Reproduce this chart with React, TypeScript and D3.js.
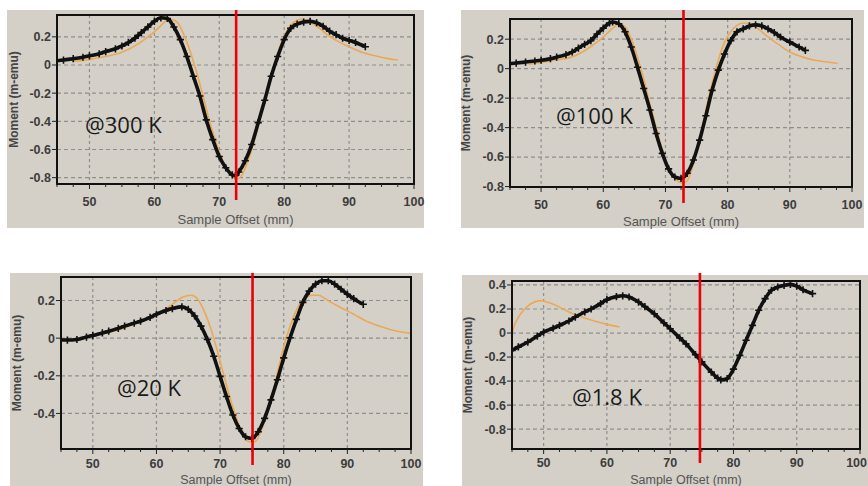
import React from 'react';
import * as d3 from 'd3';

type Pt = [number, number];

// ---------- data ----------
const panelTitles = ['@300 K', '@100 K', '@20 K', '@1.8 K'];
const xTickValues = [50, 60, 70, 80, 90, 100];
const redLineX = [72.6, 72.9, 75.1, 74.7];
const yTicks300 = [0.2, 0, -0.2, -0.4, -0.6, -0.8];
const yTicks100 = [0.2, 0, -0.2, -0.4, -0.6, -0.8];
const yTicks20 = [0.2, 0, -0.2, -0.4];
const yTicks18 = [0.4, 0.2, 0, -0.2, -0.4, -0.6, -0.8];

const black300: Pt[] = [
  [45, 0.03], [46, 0.035], [47.5, 0.045], [49, 0.055], [50, 0.065], [51.5, 0.08], [52.5, 0.095], [54, 0.115], [55, 0.135],
  [56, 0.16], [57, 0.19], [57.5, 0.21], [58, 0.23], [59, 0.27], [60, 0.31], [61, 0.335], [62, 0.33], [63, 0.27],
  [64, 0.18], [65, 0.06], [66, -0.08], [67, -0.22], [68, -0.39], [69, -0.53], [70, -0.65], [71, -0.73],
  [72, -0.78], [72.5, -0.785], [73, -0.76], [74, -0.68], [75, -0.565], [76, -0.41], [77, -0.25], [78, -0.08],
  [79, 0.06], [80, 0.18], [81, 0.26], [82, 0.29], [83, 0.305], [84, 0.31], [85, 0.3], [86, 0.275], [87, 0.24],
  [88, 0.215], [89, 0.19], [90, 0.175], [91, 0.16], [92.5, 0.13],
];
const orange300: Pt[] = [
  [47.5, 0.025], [50, 0.04], [52.5, 0.06], [55, 0.09], [57.5, 0.15], [59, 0.2], [60, 0.235], [61, 0.28], [62, 0.32],
  [62.5, 0.325], [63.5, 0.305], [64.5, 0.22], [65.5, 0.1], [66.5, -0.05], [67.5, -0.22], [68.5, -0.4], [69.5, -0.55],
  [70.5, -0.68], [71.5, -0.76], [72.7, -0.81], [73.5, -0.78], [74.5, -0.67], [75.5, -0.52], [76.5, -0.34],
  [77.5, -0.15], [78.5, 0.01], [79.5, 0.15], [80.5, 0.25], [81.5, 0.305], [82.5, 0.325], [83.5, 0.32], [84.5, 0.29],
  [85.5, 0.26], [86.5, 0.22], [88, 0.175], [90, 0.13], [92, 0.09], [94, 0.065], [96, 0.045], [97.5, 0.035],
];

const black100: Pt[] = [
  [45, 0.034], [46, 0.038], [47.5, 0.045], [49, 0.052], [50, 0.057], [51.5, 0.068], [52.5, 0.078], [54, 0.095], [55, 0.113],
  [56, 0.14], [57, 0.165], [58, 0.19], [59, 0.235], [60, 0.275], [61, 0.31], [61.5, 0.317], [62.5, 0.305],
  [63.5, 0.25], [64.5, 0.147], [65.5, 0.01], [66.5, -0.135], [67.5, -0.28], [68.5, -0.44], [69.5, -0.575],
  [70.5, -0.68], [71.5, -0.735], [72.5, -0.745], [73.5, -0.71], [74.5, -0.62], [75.5, -0.485], [76.5, -0.32],
  [77.5, -0.147], [78.5, -0.01], [79.5, 0.1], [80.5, 0.19], [81.5, 0.25], [82.5, 0.27], [83.5, 0.29], [84.5, 0.297],
  [85.5, 0.29], [86.5, 0.27], [87.5, 0.245], [88.5, 0.215], [90, 0.18], [91.5, 0.147], [92.5, 0.124],
];
const orange100: Pt[] = [
  [48, 0.03], [50, 0.042], [52.5, 0.06], [55, 0.08], [57.5, 0.135], [59, 0.18], [60, 0.215], [61, 0.255], [62, 0.29],
  [62.5, 0.305], [63.5, 0.285], [64.5, 0.2], [65.5, 0.08], [66.5, -0.07], [67.5, -0.24], [68.5, -0.4], [69.5, -0.55],
  [70.5, -0.675], [71.5, -0.745], [72.8, -0.775], [73.5, -0.76], [74.5, -0.645], [75.5, -0.485], [76.5, -0.28],
  [77.5, -0.1], [78.5, 0.057], [79.5, 0.18], [80.5, 0.25], [81.5, 0.294], [82.5, 0.31], [83.5, 0.305], [84.5, 0.283],
  [85.5, 0.25], [86.5, 0.215], [88, 0.17], [90, 0.113], [92, 0.08], [94, 0.057], [96, 0.045], [97.7, 0.035],
];

const black20: Pt[] = [
  [45, -0.01], [46, -0.01], [47.5, -0.007], [49, 0.006], [50, 0.014], [51.5, 0.028], [52.5, 0.037], [54, 0.052],
  [55, 0.064], [56.5, 0.08], [57.5, 0.09], [59, 0.11], [60, 0.127], [61.5, 0.147], [62.5, 0.157], [64, 0.166],
  [65, 0.153], [66, 0.118], [67, 0.064], [68, -0.007], [69, -0.096], [70, -0.203], [71, -0.31], [72, -0.408],
  [73, -0.48], [74, -0.524], [75, -0.533], [76, -0.497], [77, -0.426], [78, -0.328], [79, -0.221], [80, -0.105],
  [81, 0.002], [82, 0.1], [83, 0.19], [84, 0.25], [85, 0.287], [86, 0.305], [87, 0.305], [88, 0.287], [89, 0.26],
  [90, 0.233], [91, 0.21], [92.5, 0.18],
];
const orange20: Pt[] = [
  [48, 0.005], [50, 0.014], [52.5, 0.03], [55, 0.055], [57.5, 0.088], [60, 0.127], [62.5, 0.18], [64, 0.216],
  [65.5, 0.228], [66.5, 0.207], [67.5, 0.144], [68.5, 0.055], [69.5, -0.06], [70.5, -0.185], [71.5, -0.31],
  [72.5, -0.417], [73.5, -0.506], [74.5, -0.55], [75.5, -0.55], [76.5, -0.488], [77.5, -0.381], [78.5, -0.257],
  [79.5, -0.114], [80.5, 0.011], [81.5, 0.109], [82.5, 0.18], [83.5, 0.216], [84.5, 0.228], [85.5, 0.228],
  [86.5, 0.21], [87.5, 0.189], [89, 0.162], [91, 0.127], [93, 0.09], [95, 0.064], [97, 0.043], [100, 0.025],
];

const black18: Pt[] = [
  [45, -0.144], [46, -0.115], [47.5, -0.075], [49, -0.025], [50, 0.008], [51.5, 0.04], [52.5, 0.064], [54, 0.1],
  [55, 0.133], [56.5, 0.175], [57.5, 0.2], [59, 0.245], [60, 0.278], [61.5, 0.303], [62.5, 0.31], [63.5, 0.3],
  [65, 0.258], [66, 0.22], [67.5, 0.16], [69, 0.085], [70, 0.036], [71.5, -0.04], [72.5, -0.09], [74, -0.18],
  [75, -0.24], [76.5, -0.325], [77.5, -0.375], [78, -0.39], [79, -0.38], [80, -0.3], [81, -0.186], [82, -0.06],
  [83, 0.064], [84, 0.19], [85, 0.286], [86, 0.356], [87, 0.383], [88, 0.397], [89, 0.405], [90, 0.39],
  [91, 0.36], [92.5, 0.328],
];
const orange18: Pt[] = [
  [45, 0.0], [45.5, 0.08], [46, 0.13], [47, 0.2], [48, 0.244], [49.5, 0.27], [50.5, 0.258], [52, 0.23],
  [54, 0.175], [56, 0.133], [58, 0.1], [60, 0.072], [62, 0.05],
];

const blackSeries = [black300, black100, black20, black18];
const orangeSeries = [orange300, orange100, orange20, orange18];
const yTickSets = [yTicks300, yTicks100, yTicks20, yTicks18];
const yDomains: [number, number][] = [[-0.845, 0.355], [-0.803, 0.337], [-0.589, 0.325], [-0.965, 0.433]];

// ---------- layout ----------
interface Layout {
  bg: [number, number, number, number];
  frame: [number, number, number, number]; // x0,y0,x1,y1
  red: [number, number];
  title: [number, number];
  tickY: number;
  xLabelY: number;
  yLabelX: number;
  xLabelSize: number;
}
const layouts: Layout[] = [
  { bg: [7, 10, 424, 228], frame: [57, 15, 414, 184], red: [10, 200], title: [85, 133], tickY: 206, xLabelY: 224, yLabelX: 15, xLabelSize: 13 },
  { bg: [461, 10, 864, 228], frame: [510, 19, 852, 187], red: [10, 203], title: [556, 124], tickY: 208.5, xLabelY: 226, yLabelX: 467, xLabelSize: 13 },
  { bg: [10, 273, 423, 486], frame: [61, 277, 411, 449], red: [273, 465], title: [117, 396], tickY: 467.5, xLabelY: 484, yLabelX: 18, xLabelSize: 12.5 },
  { bg: [462, 275, 868, 486], frame: [512, 281, 860, 449], red: [273, 463], title: [572, 405], tickY: 467, xLabelY: 484, yLabelX: 469, xLabelSize: 12.5 },
];

const BG = '#d4d0c8';
const GRID = '#8e8e8e';
const ORANGE = '#eaa955';
const RED = '#e8000b';

function fmt(v: number) {
  return v === 0 ? '0' : v.toFixed(1);
}

function Panel({ i }: { i: number }) {
  const L = layouts[i];
  const [fx0, fy0, fx1, fy1] = L.frame;
  const x = d3.scaleLinear().domain([45, 100]).range([fx0, fx1]);
  const y = d3.scaleLinear().domain(yDomains[i]).range([fy1, fy0]);
  const line = d3.line<Pt>().x(d => x(d[0])).y(d => y(d[1])).curve(d3.curveMonotoneX);
  const black = blackSeries[i];
  const orange = orangeSeries[i];
  const s = 3.6;
  const plus = black.map(d => {
    const px = x(d[0]), py = y(d[1]);
    return `M${px - s},${py}H${px + s}M${px},${py - s}V${py + s}`;
  }).join('');
  const minor = d3.range(45, 100.01, 2.5).filter(v => !xTickValues.includes(v));
  const clipId = `clip${i}`;
  const cx = (fx0 + fx1) / 2;
  const cy = (fy0 + fy1) / 2;
  return (
    <g>
      <rect x={L.bg[0]} y={L.bg[1]} width={L.bg[2] - L.bg[0]} height={L.bg[3] - L.bg[1]} fill={BG} />
      <defs>
        <clipPath id={clipId}>
          <rect x={fx0} y={fy0 - 1} width={fx1 - fx0} height={fy1 - fy0 + 1} />
        </clipPath>
      </defs>
      {/* grid */}
      {yTickSets[i].map(v => (
        <line key={'gy' + v} x1={fx0} x2={fx1} y1={y(v)} y2={y(v)} stroke={GRID} strokeWidth={1.2} strokeDasharray="4,3" />
      ))}
      {xTickValues.filter(v => v < 100).map(v => (
        <line key={'gx' + v} x1={x(v)} x2={x(v)} y1={fy0} y2={fy1} stroke={GRID} strokeWidth={1.2} strokeDasharray="3,3" />
      ))}
      {/* curves */}
      <g clipPath={`url(#${clipId})`}>
        <path d={line(orange) || ''} fill="none" stroke={ORANGE} strokeWidth={1.6} />
        <path d={line(black) || ''} fill="none" stroke="#111" strokeWidth={3.6} />
        <path d={plus} fill="none" stroke="#111" strokeWidth={1.6} />
      </g>
      {/* frame */}
      <rect x={fx0} y={fy0} width={fx1 - fx0} height={fy1 - fy0} fill="none" stroke="#111" strokeWidth={2} />
      {/* ticks */}
      {xTickValues.map(v => (
        <line key={'tx' + v} x1={x(v)} x2={x(v)} y1={fy1} y2={fy1 + 5} stroke="#222" strokeWidth={1} />
      ))}
      {minor.map(v => (
        <line key={'mx' + v} x1={x(v)} x2={x(v)} y1={fy1} y2={fy1 + 3} stroke="#222" strokeWidth={1} />
      ))}
      {yTickSets[i].map(v => (
        <line key={'ty' + v} x1={fx0 - 5} x2={fx0} y1={y(v)} y2={y(v)} stroke="#222" strokeWidth={1} />
      ))}
      {/* tick labels */}
      {xTickValues.map(v => {
        const px = x(v);
        const atEdge = px + 11 > 868;
        return (
          <text key={'lx' + v} x={atEdge ? 867 : px} y={L.tickY} textAnchor={atEdge ? 'end' : 'middle'}
            fontFamily="'Liberation Sans', Arial, sans-serif" fontWeight="bold" fontSize={12.5} fill="#3c3c3c">{v}</text>
        );
      })}
      {yTickSets[i].map(v => (
        <text key={'ly' + v} x={fx0 - 6} y={y(v)} dy="0.35em" textAnchor="end" fontFamily="'Liberation Sans', Arial, sans-serif"
          fontWeight="bold" fontSize={12.5} fill="#3c3c3c">{fmt(v)}</text>
      ))}
      {/* axis labels */}
      <text x={cx} y={L.xLabelY} textAnchor="middle" fontFamily="'Liberation Sans', Arial, sans-serif" fontSize={L.xLabelSize} fill="#555">
        Sample Offset (mm)
      </text>
      <text transform={`translate(${L.yLabelX},${cy}) rotate(-90)`} textAnchor="middle" dominantBaseline="middle"
        fontFamily="'Liberation Sans', Arial, sans-serif" fontWeight="bold" fontSize={12} fill="#444">
        Moment (m-emu)
      </text>
      {/* title */}
      <text x={L.title[0]} y={L.title[1]} fontFamily="'Open Sans', sans-serif" fontSize={22} fill="#1a1a1a">
        {panelTitles[i]}
      </text>
      {/* red marker line */}
      <line x1={x(redLineX[i])} x2={x(redLineX[i])} y1={L.red[0]} y2={L.red[1]} stroke={RED} strokeWidth={2.6} />
    </g>
  );
}

export default function App() {
  return (
    <svg width={868} height={486} style={{ position: 'absolute', left: 0, top: 0, background: '#fff' }}>
      <rect x={0} y={0} width={868} height={486} fill="#fff" />
      {[0, 1, 2, 3].map(i => <Panel key={i} i={i} />)}
    </svg>
  );
}
